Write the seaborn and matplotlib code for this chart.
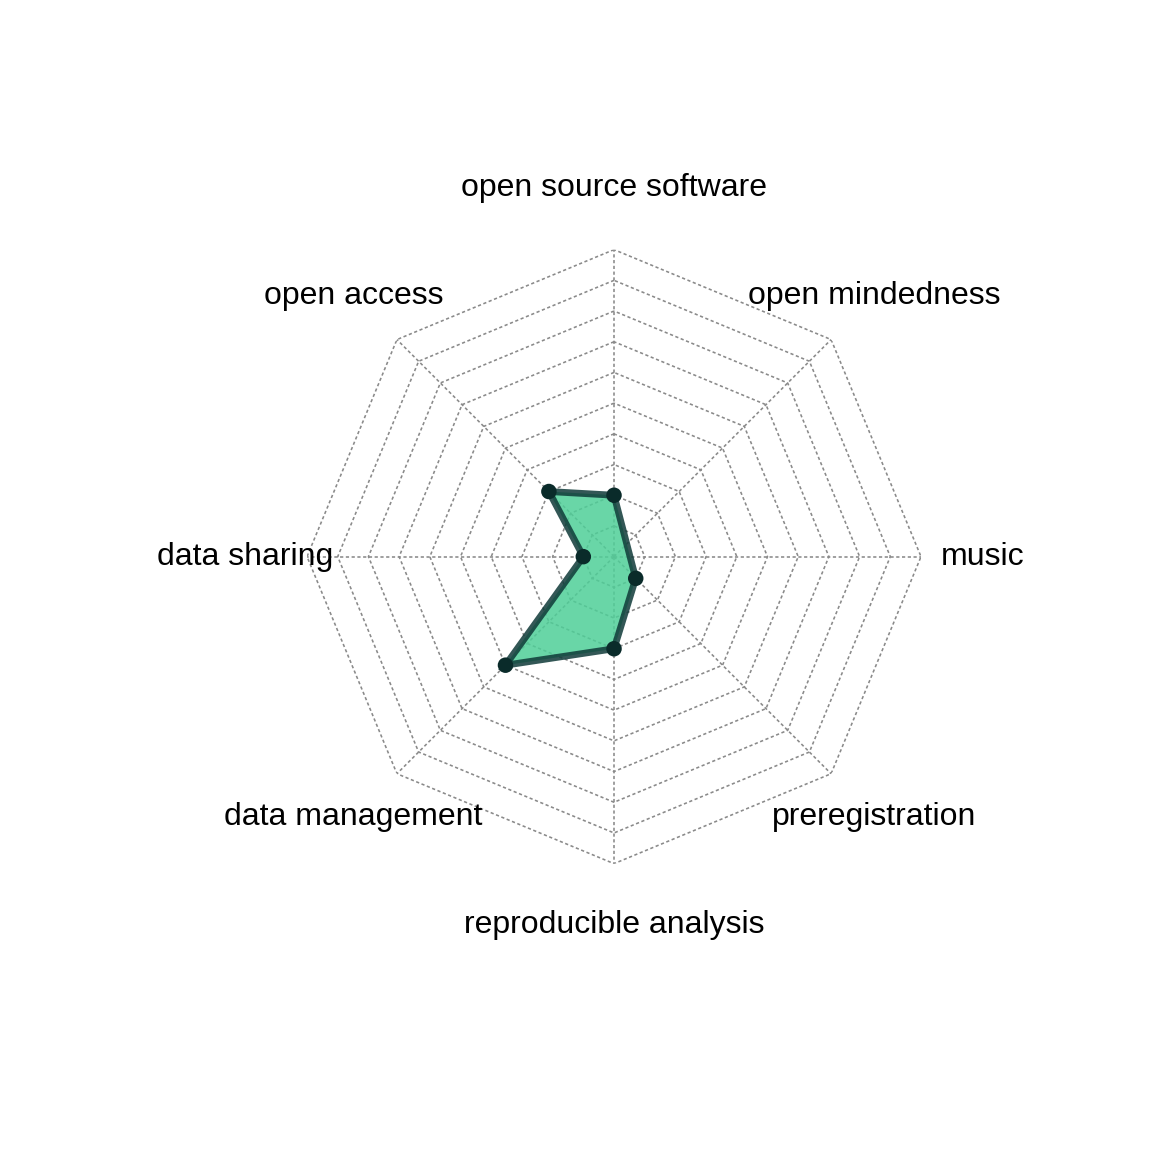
import numpy as np
import pandas as pd
import matplotlib
matplotlib.use("Agg")
import matplotlib.pyplot as plt
import seaborn as sns

# categories counter-clockwise starting from the top
categories = ["open source software", "open access", "data sharing", "data management",
              "reproducible analysis", "preregistration", "music", "open mindedness"]
scores = [0.2, 0.3, 0.1, 0.5, 0.3, 0.1, np.nan, np.nan]
ring_levels = [0.1, 0.2, 0.3, 0.4, 0.5, 0.6, 0.7, 0.8, 0.9, 1.0]

sns.set_theme(style="white")
plt.rcParams['font.family'] = ['Liberation Sans', 'DejaVu Sans']
plt.rcParams['text.color'] = 'black'

n = len(categories)
angles = np.linspace(0, 2 * np.pi, n, endpoint=False)

df = pd.DataFrame({"category": categories, "angle": angles, "score": scores})
valid = df.dropna()

fig = plt.figure(figsize=(8, 8), dpi=144)
ax = fig.add_axes([0.2665, 0.2503, 0.533, 0.533], projection="polar")
ax.set_theta_offset(np.pi / 2)
ax.set_ylim(0, 1)
ax.grid(False)
ax.spines["polar"].set_visible(False)
ax.set_xticks([])
ax.set_yticks([])
ax.patch.set_alpha(0)

grid_kw = dict(color="#8a8a8a", lw=0.8, dashes=(2, 1.6), zorder=1)
closed = np.append(angles, angles[0])
for lev in ring_levels:
    ax.plot(closed, [lev] * (n + 1), **grid_kw)
for a in angles:
    ax.plot([a, a], [0, 1], **grid_kw)

# polygon through the non-missing points
pa = np.append(valid["angle"].values, valid["angle"].values[0])
pv = np.append(valid["score"].values, valid["score"].values[0])
ax.fill(pa, pv, color="#4fcf98", alpha=0.85, zorder=2, lw=0)
ax.plot(pa, pv, color="#0f3a38", alpha=0.85, lw=3.4, zorder=3, solid_joinstyle="miter")
sns.scatterplot(data=valid, x="angle", y="score", ax=ax, s=60, color="#0a2b2a",
                edgecolor="none", zorder=4, legend=False)
ax.set_xlabel("")
ax.set_ylabel("")

for a, label in zip(angles, categories):
    ax.text(a, 1.2, label, ha="center", va="center", fontsize=16, color="black",
            clip_on=False)

fig.savefig("out.png", dpi=144, facecolor="white")
